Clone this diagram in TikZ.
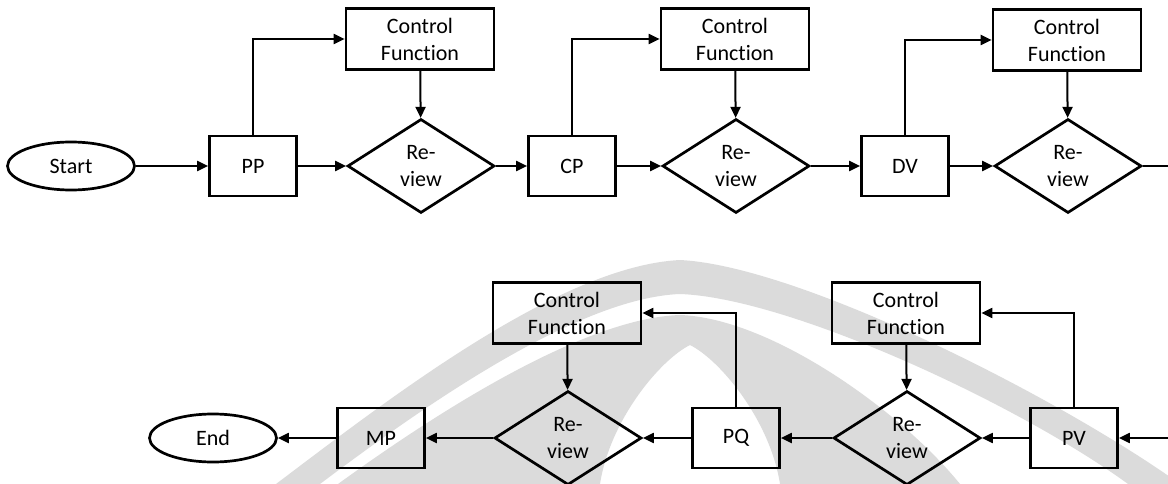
\documentclass[tikz,border=0pt]{standalone}
\usepackage{fontspec}
\setmainfont{Carlito}[Ligatures=NoCommon]
\usetikzlibrary{shapes.geometric,arrows.meta}

\begin{document}
\begin{tikzpicture}[x=1pt,y=-1pt,
  base/.style={draw=black, line width=2.7pt, inner sep=0pt, align=center,
    font=\fontsize{22pt}{27pt}\selectfont, text=black},
  stepbox/.style={base, rectangle, minimum width=87pt, minimum height=60pt},
  ctrlbox/.style={base, rectangle, minimum width=148pt, minimum height=61pt},
  review/.style={base, diamond, shape aspect=1.56, minimum width=147pt, minimum height=94pt},
  terminal/.style={base, ellipse, minimum width=127pt, minimum height=48pt},
  conn/.style={line width=2pt, -{Triangle[length=11pt,width=10pt]}},
  plainline/.style={line width=2pt},
  wmark/.style={fill=black!14, draw=none}
]
\useasboundingbox (0,0) rectangle (1168,484);

% faint logo in the background of the lower row
\fill[wmark, even odd rule]
  (276,484) .. controls (390,398) and (560,266) .. (680,260)
            .. controls (800,266) and (1060,398) .. (1180,484) -- cycle
  (320,484) .. controls (425,405) and (578,298) .. (680,294)
            .. controls (790,298) and (1020,405) .. (1128,484) -- cycle;
\fill[wmark, even odd rule]
  (338,484) .. controls (440,410) and (585,318) .. (680,315)
            .. controls (770,318) and (900,410) .. (960,484) -- cycle
  (600,484) .. controls (610,420) and (660,360) .. (690,345)
            .. controls (720,360) and (770,420) .. (780,484) -- cycle;

% upper row
\node[terminal] (start) at (71,166) {Start};
\node[stepbox]  (pp)    at (253,166) {PP};
\node[review]   (r1)    at (421,166) {Re-\\view};
\node[ctrlbox]  (cf1)   at (420,39)  {Control\\Function};
\node[stepbox]  (cp)    at (572,166) {CP};
\node[review]   (r2)    at (736,166) {Re-\\view};
\node[ctrlbox]  (cf2)   at (735,39)  {Control\\Function};
\node[stepbox]  (dv)    at (905,166) {DV};
\node[review]   (r3)    at (1068,166) {Re-\\view};
\node[ctrlbox]  (cf3)   at (1067,40) {Control\\Function};
\coordinate (outR) at (1168,166);

% lower row
\node[terminal] (end)   at (213,438) {End};
\node[stepbox]  (mp)    at (381,438) {MP};
\node[review]   (r4)    at (568,438) {Re-\\view};
\node[ctrlbox]  (cf4)   at (567,313) {Control\\Function};
\node[stepbox]  (pq)    at (736,438) {PQ};
\node[review]   (r5)    at (907,438) {Re-\\view};
\node[ctrlbox]  (cf5)   at (906,313) {Control\\Function};
\node[stepbox]  (pv)    at (1074,438) {PV};
\coordinate (inR) at (1168,438);

% upper connectors
\draw[conn] (start) -- (pp);
\draw[conn] (pp) -- (r1);
\draw[conn] (pp.north) |- (cf1.west);
\draw[conn] (cf1) -- (r1);
\draw[conn] (r1) -- (cp);
\draw[conn] (cp) -- (r2);
\draw[conn] (cp.north) |- (cf2.west);
\draw[conn] (cf2) -- (r2);
\draw[conn] (r2) -- (dv);
\draw[conn] (dv) -- (r3);
\draw[conn] (dv.north) |- (cf3.west);
\draw[conn] (cf3) -- (r3);
\draw[plainline] (r3.east) -- (outR);

% lower connectors
\draw[conn] (inR) -- (pv);
\draw[conn] (pv) -- (r5);
\draw[conn] (pv.north) |- (cf5.east);
\draw[conn] (cf5) -- (r5);
\draw[conn] (r5) -- (pq);
\draw[conn] (pq) -- (r4);
\draw[conn] (pq.north) |- (cf4.east);
\draw[conn] (cf4) -- (r4);
\draw[conn] (r4) -- (mp);
\draw[conn] (mp) -- (end);
\end{tikzpicture}
\end{document}
